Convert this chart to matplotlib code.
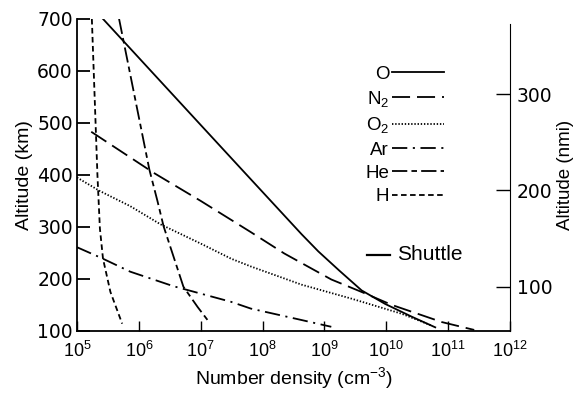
import numpy as np
import matplotlib
matplotlib.use('Agg')
import matplotlib.pyplot as plt

plt.rcParams['font.family'] = ['Liberation Sans', 'DejaVu Sans']
plt.rcParams['mathtext.fontset'] = 'custom'
plt.rcParams['mathtext.rm'] = 'Liberation Sans'
plt.rcParams['mathtext.it'] = 'Liberation Sans'
plt.rcParams['mathtext.default'] = 'regular'
plt.rcParams['lines.scale_dashes'] = False

# 读图得到的数据: (log10 数密度, 高度 km)
o_logn = [5.42, 7.0, 7.76, 8.63, 8.9, 9.24, 9.6, 9.98, 10.4, 10.79]
o_alt = [700, 496, 398, 286, 253, 216, 178, 152, 128, 107]

n2_logn = [5.23, 6.24, 7.0, 7.81, 8.35, 9.11, 9.6, 10.09, 10.9, 11.42]
n2_alt = [483, 404, 350, 290, 249, 199, 175, 150, 117, 102]

o2_logn = [5.0, 5.37, 5.86, 6.35, 7.0, 7.49, 7.81, 8.63, 9.44, 10.25, 10.74]
o2_alt = [395, 369, 340, 305, 268, 239, 224, 189, 162, 133, 110]

ar_logn = [5.0, 5.4, 5.86, 6.56, 7.49, 7.81, 8.63, 9.11]
ar_alt = [261, 240, 214, 186, 156, 143, 121, 108]

he_logn = [5.68, 6.17, 6.30, 6.40, 6.72, 6.95, 7.11]
he_alt = [700, 410, 350, 301, 185, 146, 121]

h_logn = [5.24, 5.33, 5.37, 5.42, 5.54, 5.73]
h_alt = [700, 400, 297, 239, 175, 114]

species = ['O', 'N$_2$', 'O$_2$', 'Ar', 'He', 'H']
shuttle_alt = 247
shuttle_logn = [9.68, 10.06]

km_per_nmi = 1.852
alt_ticks = [100, 200, 300, 400, 500, 600, 700]
nmi_ticks = [100, 200, 300]
x_exps = list(range(5, 13))

styles = [
    dict(linestyle='-'),
    dict(linestyle=(0, (13, 5))),
    dict(linestyle=(0, (1.0, 1.3))),
    dict(linestyle=(0, (11, 4, 1.5, 4))),
    dict(linestyle=(0, (11, 3, 4, 3))),
    dict(linestyle=(0, (4, 2.5))),
]

fig = plt.figure(figsize=(5.79, 3.94), dpi=100)
ax = fig.add_axes([0.133, 0.160, 0.748, 0.792])

curves = [(o_logn, o_alt), (n2_logn, n2_alt), (o2_logn, o2_alt),
          (ar_logn, ar_alt), (he_logn, he_alt), (h_logn, h_alt)]
for (lx, alt), lab, st in zip(curves, species, styles):
    ax.plot(10 ** np.array(lx), alt, color='black', lw=1.3, label=lab, **st)

# Shuttle 标记
ax.plot(10 ** np.array(shuttle_logn), [shuttle_alt] * 2, color='black', lw=1.6)
ax.text(10 ** (shuttle_logn[1] + 0.12), shuttle_alt, 'Shuttle',
        fontsize=15, va='center', ha='left')

ax.set_xscale('log')
ax.set_xlim(1e5, 1e12)
ax.set_ylim(100, 700)
ax.set_xticks([10.0 ** e for e in x_exps])
ax.set_xticklabels(['$10^{%d}$' % e for e in x_exps])
ax.xaxis.set_minor_locator(matplotlib.ticker.NullLocator())
ax.set_yticks(alt_ticks)
ax.tick_params(axis='x', direction='in', length=7, width=1, labelsize=13, pad=7)
ax.tick_params(axis='y', direction='in', length=9.5, width=1.3, labelsize=13.5, pad=3)
for t in ax.get_yticklabels():
    t.set_family('DejaVu Sans')
ax.spines['top'].set_visible(False)
ax.spines['right'].set_visible(False)
ax.spines['left'].set_linewidth(1.3)
ax.spines['bottom'].set_linewidth(1.3)
ax.set_xlabel('Number density (cm$^{-3}$)', fontsize=14, labelpad=3)
ax.set_ylabel('Altitude (km)', fontsize=14, labelpad=3)

ax2 = ax.twinx()
ax2.set_ylim(100 / km_per_nmi, 700 / km_per_nmi)
ax2.set_yticks(nmi_ticks)
ax2.tick_params(axis='y', direction='in', length=10, width=1, labelsize=13.5, pad=5)
for t in ax2.get_yticklabels():
    t.set_family('DejaVu Sans')
for s in ['top', 'left', 'bottom']:
    ax2.spines[s].set_visible(False)
ax2.spines['right'].set_bounds(100 / km_per_nmi, 690 / km_per_nmi)
ax2.set_ylabel('Altitude (nmi)', fontsize=13.5, labelpad=3)

leg = ax.legend(loc='upper right', bbox_to_anchor=(0.868, 0.88), markerfirst=False,
                frameon=False, fontsize=13.5, handlelength=2.75, handletextpad=0.15,
                labelspacing=0.33, borderpad=0)

fig.savefig('out.png', dpi=100)
